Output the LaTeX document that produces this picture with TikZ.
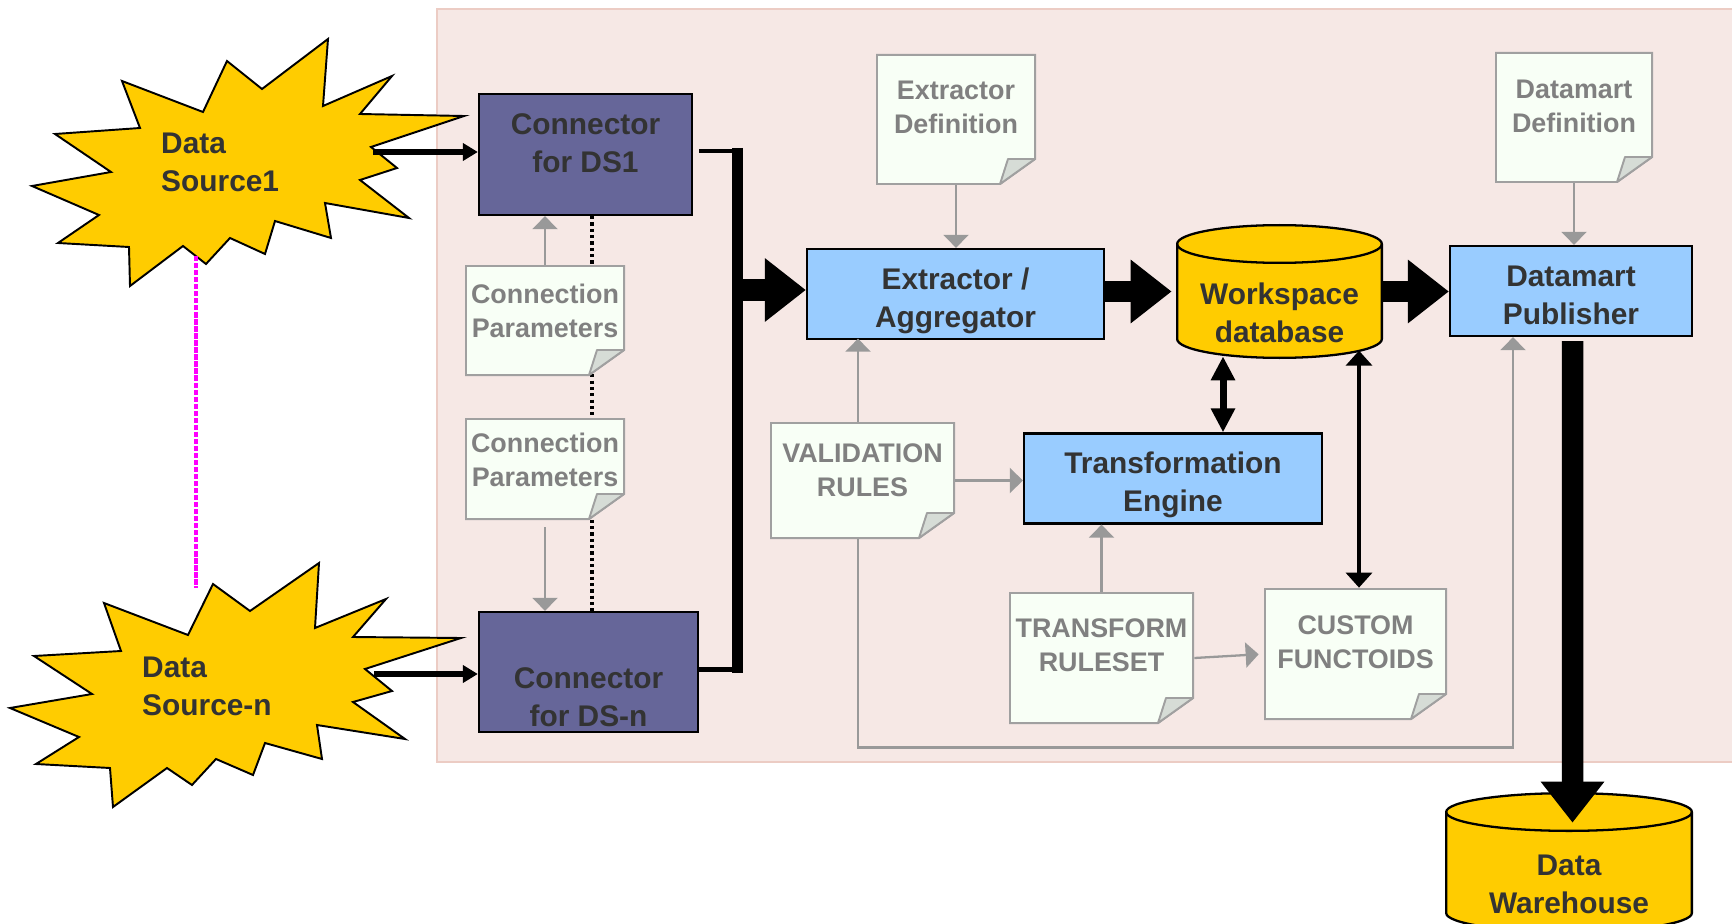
\documentclass[tikz,border=0pt]{standalone}
\usepackage{fontspec}
\setmainfont{Liberation Sans}
\usetikzlibrary{arrows.meta,calc}
\definecolor{pinkbg}{RGB}{246,232,229}
\definecolor{pinkline}{RGB}{236,204,196}
\definecolor{connpurple}{RGB}{102,102,153}
\definecolor{boxblue}{RGB}{153,204,255}
\definecolor{dbyellow}{RGB}{255,204,0}
\definecolor{docfill}{RGB}{248,255,246}
\definecolor{docline}{RGB}{160,160,160}
\definecolor{flapfill}{RGB}{214,220,214}
\definecolor{docgray}{RGB}{128,128,128}
\definecolor{textdark}{RGB}{51,51,51}
\definecolor{arrowgray}{RGB}{153,153,153}
\definecolor{linkmagenta}{RGB}{255,0,255}

\tikzset{
  maintext/.style={align=center, text=textdark, font=\fontsize{17}{21.6}\selectfont\bfseries},
  doctext/.style={align=center, text=docgray, font=\fontsize{15.3}{19.4}\selectfont\bfseries},
  conn/.style={draw=black, line width=1.3pt, fill=connpurple, minimum height=2.42cm, inner sep=0pt},
  bluebox/.style={draw=black, line width=1.3pt, fill=boxblue, minimum height=1.8cm, inner sep=0pt},
  dbcyl/.style 2 args={minimum width=#1, minimum height=#2, inner sep=0pt,
    path picture={
      \filldraw[draw=black, fill=dbyellow, line width=1.3pt]
        ([shift={(.65pt,-.4cm)}]path picture bounding box.north west)
        -- ([shift={(.65pt,.4cm)}]path picture bounding box.south west)
        arc[start angle=180, end angle=360, x radius=#1/2-.65pt, y radius=.4cm-.65pt]
        -- ([shift={(-.65pt,-.4cm)}]path picture bounding box.north east)
        arc[start angle=0, end angle=180, x radius=#1/2-.65pt, y radius=.4cm-.65pt]
        -- cycle;
      \draw[line width=1.3pt]
        ([shift={(.65pt,-.4cm)}]path picture bounding box.north west)
        arc[start angle=180, end angle=360, x radius=#1/2-.65pt, y radius=.4cm-.65pt];
    }},
  doc/.style 2 args={minimum width=#1, minimum height=#2, inner sep=0pt,
    path picture={
      \filldraw[draw=docline, fill=docfill, line width=1.1pt]
        ([shift={(.55pt,-.55pt)}]path picture bounding box.north west)
        -- ([shift={(-.55pt,-.55pt)}]path picture bounding box.north east)
        -- ([shift={(-.55pt,.52cm)}]path picture bounding box.south east)
        -- ([shift={(-.72cm,.55pt)}]path picture bounding box.south east)
        -- ([shift={(.55pt,.55pt)}]path picture bounding box.south west) -- cycle;
      \filldraw[draw=docline, fill=flapfill, line width=1.1pt, line join=round]
        ([shift={(-.72cm,.55pt)}]path picture bounding box.south east)
        -- ([shift={(-.56cm,.52cm)}]path picture bounding box.south east)
        -- ([shift={(-.55pt,.52cm)}]path picture bounding box.south east) -- cycle;
    }},
  burst/.style={draw=black, line width=1.1pt, fill=dbyellow, line join=miter},
  srcarrow/.style={line width=3.4pt, -{Triangle[width=0.34cm,length=0.3cm]}},
  bigarrow/.style={line width=0.43cm, -{Triangle[width=1.22cm,length=0.82cm]}},
  grayarrow/.style={draw=arrowgray, line width=1.3pt, -{Triangle[width=0.5cm,length=0.26cm]}},
  dblthick/.style={line width=4pt, {Triangle[width=0.46cm,length=0.48cm]}-{Triangle[width=0.46cm,length=0.48cm]}},
  dblthin/.style={line width=2pt, {Triangle[width=0.52cm,length=0.3cm]}-{Triangle[width=0.52cm,length=0.3cm]}},
  busline/.style={line width=6.8pt},
  busstub/.style={line width=2.8pt},
  dotline/.style={line width=1.8pt, dash pattern=on 1.8pt off 1.8pt},
  magline/.style={linkmagenta, line width=1.9pt, dash pattern=on 3pt off 1pt}
}

\begin{document}
\begin{tikzpicture}
  \useasboundingbox (0,0) rectangle (34.64,-18.48);
  \draw[pinkline, fill=pinkbg, line width=0.8pt] (8.74,-0.18) rectangle (34.9,-15.24);

  % data sources
  \draw[burst] (6.56,-0.78) -- (6.46,-2.12) -- (7.84,-1.52) -- (7.20,-2.28) -- (9.28,-2.32)
    -- (7.42,-2.94) -- (7.94,-3.36) -- (7.20,-3.60) -- (8.18,-4.36) -- (6.50,-4.06)
    -- (6.62,-4.76) -- (5.50,-4.42) -- (5.30,-5.08) -- (4.60,-4.76) -- (4.12,-5.28)
    -- (3.66,-4.92) -- (2.60,-5.72) -- (2.58,-4.94) -- (1.16,-4.86) -- (1.98,-4.30)
    -- (0.64,-3.72) -- (2.22,-3.44) -- (1.10,-2.68) -- (2.80,-2.56) -- (2.44,-1.62)
    -- (4.06,-2.24) -- (4.54,-1.22) -- (5.24,-1.78) -- cycle;
  \draw[burst] (6.38,-11.26) -- (6.30,-12.56) -- (7.72,-11.98) -- (7.06,-12.74) -- (9.22,-12.76)
    -- (7.30,-13.38) -- (7.84,-13.82) -- (7.06,-14.04) -- (8.10,-14.78) -- (6.34,-14.50)
    -- (6.44,-15.18) -- (5.30,-14.86) -- (5.06,-15.50) -- (4.32,-15.18) -- (3.84,-15.70)
    -- (3.34,-15.36) -- (2.26,-16.14) -- (2.20,-15.36) -- (0.72,-15.28) -- (1.58,-14.74)
    -- (0.20,-14.16) -- (1.84,-13.88) -- (0.68,-13.12) -- (2.42,-13.02) -- (2.08,-12.06)
    -- (3.76,-12.70) -- (4.26,-11.68) -- (5.00,-12.22) -- cycle;
  \node[maintext, align=left, anchor=west] (ds1) at (3.10,-3.24) {Data\\Source1};
  \node[maintext, align=left, anchor=west] (dsn) at (2.72,-13.72) {Data\\Source-n};
  \coordinate (ds1out) at (7.46,-3.04);
  \coordinate (dsnout) at (7.48,-13.48);
  \coordinate (mag1) at (3.92,-5.12);
  \coordinate (mag2) at (3.92,-11.76);
  \draw[magline] (mag1) -- (mag2);

  % connectors
  \node[conn, minimum width=4.26cm] (cds1) at (11.71,-3.09) {};
  \node[maintext] (cds1t) at ([yshift=0.22cm]cds1.center) {Connector\\for DS1};
  \node[conn, minimum width=4.38cm, minimum height=2.40cm] (cdsn) at (11.77,-13.44) {};
  \node[maintext] (cdsnt) at ([yshift=-0.5cm]cdsn.center) {Connector\\for DS-n};
  \draw[dotline] ([xshift=0.13cm]cds1.south) -- ([xshift=0.07cm]cdsn.north);

  \node[doc={3.2cm}{2.22cm}] (cp1) at (10.90,-6.41) {};
  \node[doctext] (cp1t) at ([yshift=0.19cm]cp1.center) {Connection\\Parameters};
  \node[doc={3.2cm}{2.04cm}] (cp2) at (10.90,-9.38) {};
  \node[doctext] (cp2t) at ([yshift=0.19cm]cp2.center) {Connection\\Parameters};

  % bus
  \coordinate (bustop) at (14.75,-3.02);
  \coordinate (busmid) at (14.75,-5.80);
  \coordinate (busbot) at (14.75,-13.39);
  \draw[busline] ([yshift=0.06cm]bustop) -- ([yshift=-0.06cm]busbot);
  \draw[busstub, shorten <=0.12cm] (cds1.east |- bustop) -- ([xshift=0.11cm]bustop);
  \draw[busstub] (cdsn.east |- busbot) -- ([xshift=0.11cm]busbot);

  % main flow
  \node[bluebox, minimum width=5.94cm] (ext) at (19.11,-5.88) {};
  \node[maintext] (extt) at ([yshift=-0.13cm]ext.center) {Extractor /\\Aggregator};
  \node[doc={3.2cm}{2.62cm}] (edef) at (19.12,-2.39) {};
  \node[doctext] (edeft) at ([yshift=0.24cm]edef.center) {Extractor\\Definition};
  \node[dbcyl={4.14cm}{2.70cm}] (ws) at (25.59,-5.83) {};
  \node[maintext] (wst) at ([yshift=-0.43cm]ws.center) {Workspace\\database};
  \node[bluebox, minimum width=4.84cm] (dmp) at (31.42,-5.82) {};
  \node[maintext] (dmpt) at ([yshift=-0.08cm]dmp.center) {Datamart\\Publisher};
  \node[doc={3.16cm}{2.62cm}] (ddef) at (31.48,-2.35) {};
  \node[doctext] (ddeft) at ([yshift=0.22cm]ddef.center) {Datamart\\Definition};
  \node[bluebox, minimum width=5.96cm] (te) at (23.46,-9.57) {};
  \node[maintext] (tet) at ([yshift=-0.12cm]te.center) {Transformation\\Engine};
  \node[doc={3.7cm}{2.34cm}] (val) at (17.25,-9.61) {};
  \node[doctext] (valt) at ([yshift=0.2cm]val.center) {VALIDATION\\RULES};
  \node[doc={3.7cm}{2.64cm}] (tr) at (22.03,-13.16) {};
  \node[doctext] (trt) at ([yshift=0.25cm]tr.center) {TRANSFORM\\RULESET};
  \node[doc={3.66cm}{2.64cm}] (cf) at (27.11,-13.08) {};
  \node[doctext] (cft) at ([yshift=0.24cm]cf.center) {CUSTOM\\FUNCTOIDS};
  \node[dbcyl={4.96cm}{2.82cm}] (dw) at (31.38,-17.25) {};
  \node[maintext] (dwt) at ([yshift=-0.43cm]dw.center) {Data\\Warehouse};

  \draw[srcarrow] (ds1out) -- (ds1out -| cds1.west);
  \draw[srcarrow] (dsnout) -- (dsnout -| cdsn.west);
  \draw[grayarrow] (cp1.north) -- (cp1.north |- cds1.south);
  \draw[grayarrow, shorten <=0.14cm] (cp2.south) -- (cp2.south |- cdsn.north);
  \draw[bigarrow] (busmid) -- (busmid -| ext.west);
  \draw[bigarrow, shorten >=0.08cm] (ext.east |- ws.west) -- (ws.west);
  \draw[bigarrow] (ws.east) -- (ws.east -| dmp.west);
  \draw[bigarrow] ([xshift=0.03cm,yshift=-0.08cm]dmp.south) -- ($(dw.north)+(0.07,-0.62)$);
  \draw[grayarrow] (edef.south) -- (edef.south |- ext.north);
  \draw[grayarrow] (ddef.south) -- (ddef.south |- dmp.north);
  \draw[dblthick] ([xshift=1cm]te.north) -- ++(0,1.52);
  \draw[dblthin] ([xshift=0.07cm]cf.north) -- ++(0,4.74);
  \draw[grayarrow] (val.east) -- (val.east -| te.west);
  \draw[grayarrow] ([xshift=-0.09cm]val.north) -- ++(0,1.66);
  \draw[grayarrow] ([xshift=-0.09cm]val.south) -- ++(0,-4.16) -| ([xshift=-1.16cm]dmp.south);
  \draw[grayarrow] (tr.north) -- (tr.north |- te.south);
  \draw[grayarrow, shorten >=0.1cm] (tr.east) -- (cf.west);
\end{tikzpicture}
\end{document}
